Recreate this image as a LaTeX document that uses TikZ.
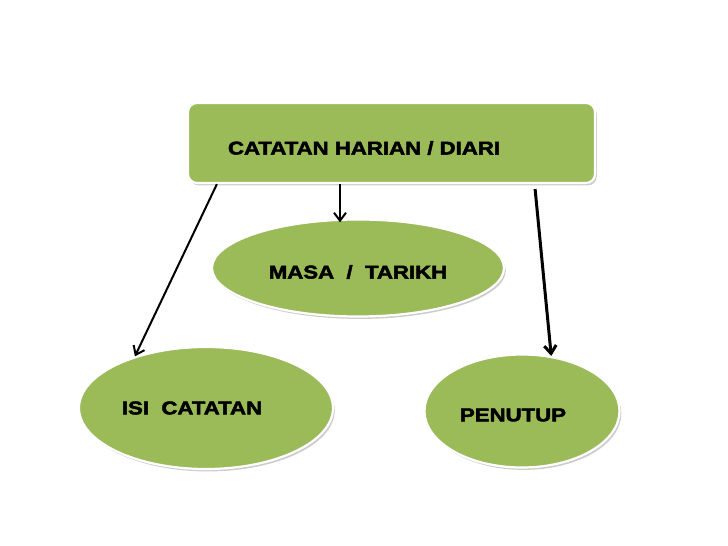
\documentclass[tikz,border=0pt]{standalone}
\usepackage{fontspec}
\setmainfont{Liberation Sans}[FakeStretch=1.2, BoldFeatures={FakeBold=2.6}]
\usepackage{xcolor}
\usetikzlibrary{arrows.meta,calc,positioning,shapes.geometric,shadows}
\definecolor{leafgreen}{RGB}{155,187,89}
\newcommand{\DropText}[2]{\raisebox{-#1}[\height][\depth]{#2}}
\tikzset{
  part/.style={fill=leafgreen, draw=white, line width=2.2pt,
    drop shadow={shadow xshift=1.8pt, shadow yshift=-2.4pt, opacity=0.4},
    font=\fontsize{18.5}{20}\selectfont\bfseries, inner sep=0pt},
  titleBox/.style={part, rectangle, rounded corners=9pt},
  partOval/.style={part, ellipse},
  partArrow/.style={-{Straight Barb[length=8pt,width=12pt]}, line width=2pt},
  heavyArrow/.style={partArrow, line width=3pt}
}

\begin{document}
\begin{tikzpicture}[x=1pt,y=-1pt]
  \useasboundingbox (0,0) rectangle (728,546);
  % main topic and its three parts
  \node[titleBox, minimum width=407pt, minimum height=80pt,
        text width=327pt, align=left, inner xsep=40pt] (diari) at (391.5,143)
        {\DropText{5pt}{CATATAN HARIAN / DIARI}};
  \node[partOval, minimum width=292pt, minimum height=97pt] (masa) at (358,268)
        {\DropText{4pt}{MASA\ \ /\ \ TARIKH}};
  \node[partOval, minimum width=254pt, minimum height=122pt] (isi) at (206,408)
        {\hspace*{-28pt}ISI\ \ CATATAN};
  \node[partOval, minimum width=195pt, minimum height=113pt] (penutup) at (522,411)
        {\hspace*{-18pt}\DropText{4pt}{PENUTUP}};
  % arrows
  \coordinate (midstart) at ([xshift=-51.5pt]diari.south);
  \draw[partArrow] ([xshift=30pt]diari.south west) -- (isi.144);
  \draw[partArrow] (midstart) -- ([yshift=-4pt]midstart |- masa.north);
  \draw[heavyArrow] ([xshift=-61pt,yshift=-5pt]diari.south east) -- (penutup.62);
\end{tikzpicture}
\end{document}
